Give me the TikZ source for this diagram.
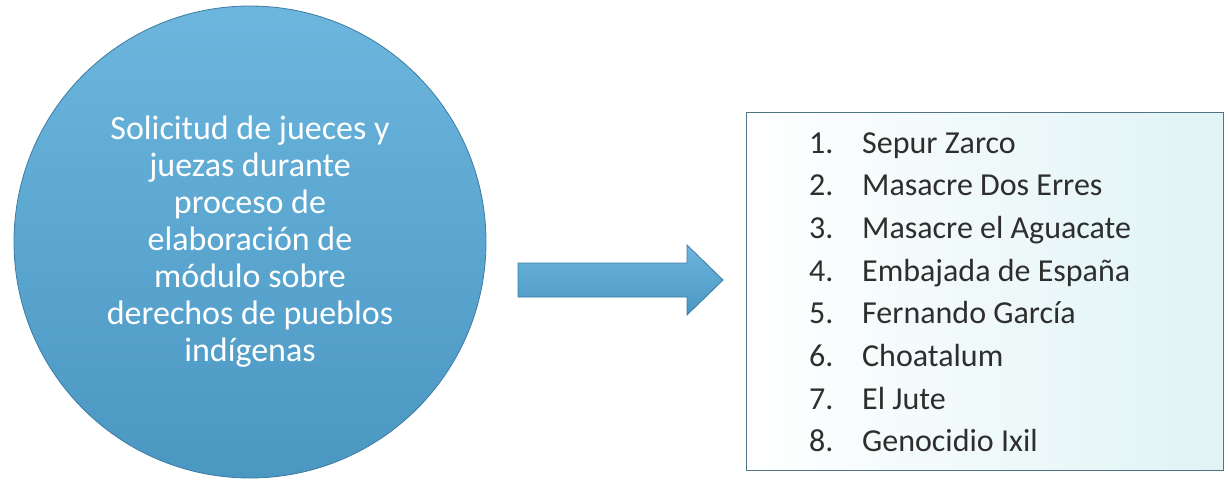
\documentclass[tikz,border=0pt]{standalone}
\usepackage{fontspec}
\setmainfont{Carlito}
\usetikzlibrary{positioning}

\definecolor{disctop}{HTML}{6CB6DE}
\definecolor{discbottom}{HTML}{4A97C2}
\definecolor{discedge}{HTML}{3D7CA3}
\definecolor{boxedge}{HTML}{4F7488}
\definecolor{boxtint}{HTML}{E0F3F5}
\definecolor{itemtext}{HTML}{2E2E2E}

\tikzset{
  disc/.style={circle, minimum size=472pt, inner sep=0pt, draw=discedge, line width=0.8pt,
    top color=disctop, bottom color=discbottom, text=white, align=center,
    font=\fontsize{34}{37}\selectfont},
  listbox/.style={rectangle, minimum width=477pt, minimum height=358pt, draw=boxedge,
    line width=1pt, left color=white, right color=boxtint},
  listitem/.style={anchor=base west, inner sep=0pt, text=itemtext,
    font=\fontsize{32}{38}\selectfont}
}

\begin{document}
\begin{tikzpicture}[x=1pt,y=-1pt]
		\useasboundingbox (0,0) rectangle (1228,480);

		% Request circle
		\node[disc] (request) at (250,242) {Solicitud de jueces y\\ juezas durante\\ proceso de\\ elaboración de\\ módulo sobre\\ derechos de pueblos\\ indígenas};

		% Block arrow
		\coordinate (arrowtail) at (518,280);
		\begin{scope}[shift={(arrowtail)}]
			\draw[draw=discedge, line width=0.8pt, top color=disctop, bottom color=discbottom]
				(0,-17) -- (169,-17) -- (169,-35) -- (205,0) -- (169,35) -- (169,17) -- (0,17) -- cycle;
		\end{scope}

		% List of cases
		\node[listbox] (cases) at (984.5,291) {};
		\foreach \i/\name in {1/Sepur Zarco, 2/Masacre Dos Erres, 3/Masacre el Aguacate,
			4/Embajada de España, 5/Fernando García, 6/Choatalum, 7/El Jute, 8/Genocidio Ixil}
			\node[listitem] (item\i) at (809,{153+(\i-1)*42.7}) {\makebox[53pt][l]{\i.}\name};
	\end{tikzpicture}
\end{document}
